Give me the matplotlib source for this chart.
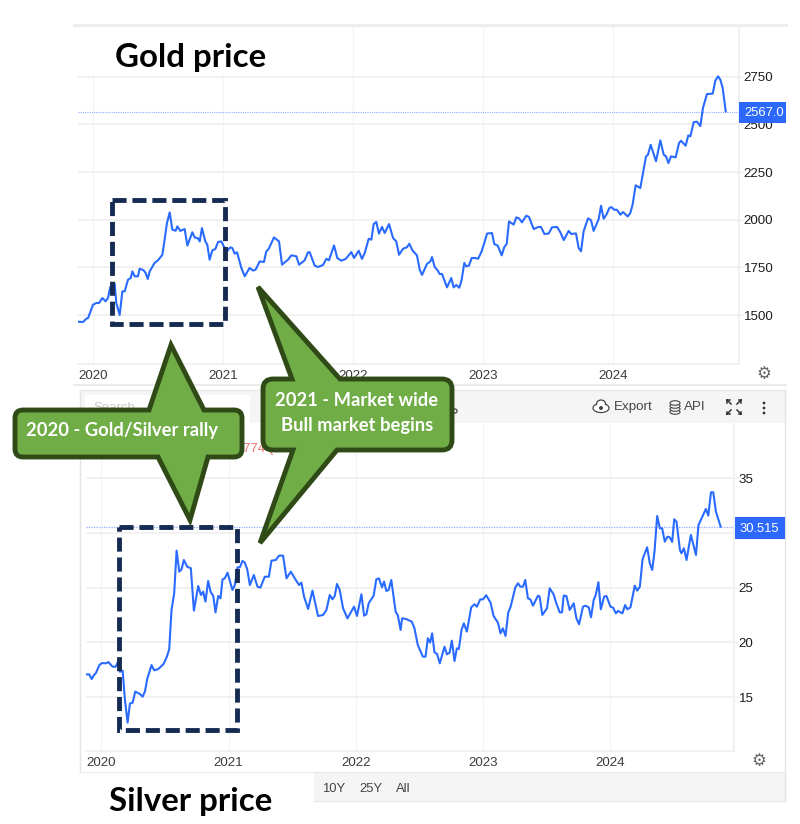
import matplotlib.pyplot as plt
from matplotlib.patches import Ellipse, PathPatch, Rectangle
from matplotlib.path import Path

# 금 가격 (연도, 값)
gold_years = [
    2019.885, 2019.923, 2019.949, 2019.962, 2020.0, 2020.026, 2020.046, 2020.072, 2020.097, 2020.115,
    2020.133, 2020.149, 2020.167, 2020.179, 2020.205, 2020.226, 2020.244, 2020.269, 2020.29, 2020.303,
    2020.321, 2020.346, 2020.359, 2020.39, 2020.405, 2020.421, 2020.436, 2020.474, 2020.5, 2020.533,
    2020.551, 2020.569, 2020.59, 2020.61, 2020.636, 2020.649, 2020.672, 2020.705, 2020.726, 2020.764,
    2020.782, 2020.808, 2020.821, 2020.838, 2020.864, 2020.879, 2020.897, 2020.918, 2020.941, 2020.962,
    2020.987, 2021.013, 2021.031, 2021.056, 2021.072, 2021.09, 2021.108, 2021.141, 2021.167, 2021.205,
    2021.231, 2021.251, 2021.282, 2021.315, 2021.333, 2021.351, 2021.392, 2021.431, 2021.454, 2021.5,
    2021.526, 2021.564, 2021.585, 2021.628, 2021.654, 2021.667, 2021.705, 2021.731, 2021.769, 2021.795,
    2021.815, 2021.854, 2021.879, 2021.91, 2021.944, 2021.987, 2022.008, 2022.044, 2022.069, 2022.09,
    2022.121, 2022.141, 2022.159, 2022.179, 2022.2, 2022.223, 2022.244, 2022.277, 2022.308, 2022.333,
    2022.354, 2022.385, 2022.415, 2022.433, 2022.459, 2022.492, 2022.513, 2022.531, 2022.569, 2022.595,
    2022.608, 2022.628, 2022.651, 2022.667, 2022.685, 2022.723, 2022.756, 2022.774, 2022.795, 2022.818,
    2022.836, 2022.856, 2022.872, 2022.892, 2022.913, 2022.941, 2022.962, 2022.987, 2023.01, 2023.031,
    2023.069, 2023.087, 2023.113, 2023.144, 2023.164, 2023.182, 2023.2, 2023.236, 2023.256, 2023.277,
    2023.3, 2023.333, 2023.354, 2023.39, 2023.428, 2023.446, 2023.472, 2023.505, 2023.531, 2023.569,
    2023.595, 2023.621, 2023.659, 2023.679, 2023.715, 2023.736, 2023.754, 2023.774, 2023.808, 2023.831,
    2023.851, 2023.89, 2023.908, 2023.928, 2023.949, 2023.972, 2023.987, 2024.01, 2024.031, 2024.056,
    2024.077, 2024.113, 2024.133, 2024.151, 2024.174, 2024.21, 2024.254, 2024.269, 2024.29, 2024.331,
    2024.364, 2024.39, 2024.408, 2024.426, 2024.446, 2024.482, 2024.508, 2024.523, 2024.559, 2024.579,
    2024.595, 2024.621, 2024.646, 2024.672, 2024.692, 2024.723, 2024.767, 2024.787, 2024.808, 2024.826,
    2024.844, 2024.867,
]
gold_values = [
    1465, 1463, 1481, 1484, 1554, 1563, 1563, 1589, 1572, 1589,
    1647, 1615, 1664, 1563, 1500, 1624, 1624, 1685, 1694, 1729,
    1703, 1703, 1743, 1734, 1720, 1689, 1729, 1773, 1787, 1815,
    1895, 1983, 2038, 1948, 1942, 1965, 1941, 1951, 1864, 1934,
    1907, 1902, 1886, 1956, 1886, 1869, 1790, 1839, 1846, 1883,
    1886, 1851, 1834, 1855, 1851, 1822, 1829, 1747, 1703, 1747,
    1733, 1738, 1781, 1778, 1834, 1846, 1907, 1886, 1764, 1790,
    1813, 1808, 1764, 1787, 1829, 1829, 1759, 1752, 1762, 1795,
    1787, 1865, 1799, 1785, 1794, 1830, 1799, 1837, 1794, 1825,
    1900, 1895, 1977, 1988, 1927, 1962, 1930, 1977, 1904, 1886,
    1816, 1848, 1855, 1874, 1837, 1813, 1738, 1710, 1768, 1781,
    1804, 1752, 1734, 1715, 1715, 1645, 1694, 1645, 1657, 1643,
    1685, 1773, 1755, 1759, 1799, 1799, 1795, 1829, 1878, 1927,
    1930, 1872, 1864, 1813, 1857, 1872, 1991, 1974, 2012, 2007,
    1986, 2021, 2014, 1951, 1962, 1962, 1925, 1927, 1960, 1962,
    1934, 1893, 1941, 1925, 1928, 1851, 1834, 1939, 2007, 1997,
    1941, 2003, 2073, 2005, 2026, 2061, 2066, 2052, 2052, 2026,
    2040, 2017, 2035, 2079, 2180, 2166, 2332, 2341, 2393, 2306,
    2416, 2341, 2332, 2297, 2332, 2327, 2402, 2414, 2388, 2442,
    2437, 2512, 2514, 2491, 2586, 2659, 2661, 2729, 2752, 2734,
    2690, 2568,
]
gold_last = 2567.0
gold_ticks = [1500, 1750, 2000, 2250, 2500, 2750]

# 은 가격 (연도, 값)
silver_years = [
    2019.885, 2019.906, 2019.924, 2019.942, 2019.958, 2019.984, 2020.003, 2020.037, 2020.055, 2020.089,
    2020.113, 2020.131, 2020.147, 2020.168, 2020.186, 2020.207, 2020.225, 2020.246, 2020.267, 2020.304,
    2020.325, 2020.343, 2020.361, 2020.395, 2020.416, 2020.448, 2020.487, 2020.513, 2020.534, 2020.552,
    2020.573, 2020.592, 2020.613, 2020.631, 2020.649, 2020.675, 2020.704, 2020.728, 2020.762, 2020.783,
    2020.801, 2020.819, 2020.84, 2020.859, 2020.88, 2020.898, 2020.919, 2020.937, 2020.953, 2020.971,
    2020.992, 2021.031, 2021.05, 2021.071, 2021.089, 2021.11, 2021.128, 2021.147, 2021.168, 2021.199,
    2021.228, 2021.251, 2021.285, 2021.317, 2021.338, 2021.372, 2021.398, 2021.429, 2021.456, 2021.49,
    2021.529, 2021.555, 2021.573, 2021.594, 2021.626, 2021.66, 2021.704, 2021.743, 2021.77, 2021.796,
    2021.817, 2021.835, 2021.853, 2021.874, 2021.901, 2021.935, 2021.987, 2022.01, 2022.045, 2022.066,
    2022.084, 2022.102, 2022.141, 2022.162, 2022.183, 2022.207, 2022.223, 2022.241, 2022.259, 2022.28,
    2022.314, 2022.332, 2022.353, 2022.365, 2022.396, 2022.441, 2022.462, 2022.488, 2022.528, 2022.549,
    2022.567, 2022.585, 2022.601, 2022.619, 2022.64, 2022.661, 2022.698, 2022.717, 2022.738, 2022.756,
    2022.777, 2022.795, 2022.811, 2022.832, 2022.85, 2022.874, 2022.908, 2022.934, 2022.953, 2022.979,
    2023.0, 2023.026, 2023.06, 2023.084, 2023.118, 2023.139, 2023.157, 2023.178, 2023.199, 2023.218,
    2023.255, 2023.276, 2023.294, 2023.315, 2023.333, 2023.354, 2023.373, 2023.394, 2023.433, 2023.446,
    2023.467, 2023.504, 2023.525, 2023.556, 2023.577, 2023.604, 2023.622, 2023.635, 2023.656, 2023.682,
    2023.714, 2023.735, 2023.756, 2023.787, 2023.806, 2023.832, 2023.85, 2023.871, 2023.887, 2023.908,
    2023.927, 2023.953, 2023.971, 2024.003, 2024.024, 2024.045, 2024.063, 2024.097, 2024.118, 2024.136,
    2024.16, 2024.194, 2024.213, 2024.234, 2024.255, 2024.291, 2024.312, 2024.331, 2024.349, 2024.37,
    2024.391, 2024.409, 2024.43, 2024.451, 2024.469, 2024.488, 2024.504, 2024.522, 2024.549, 2024.561,
    2024.58, 2024.601, 2024.635, 2024.675, 2024.695, 2024.753, 2024.772, 2024.793, 2024.811, 2024.832,
    2024.869,
]
silver_values = [
    17.07, 17.07, 16.64, 17.0, 17.2, 17.9, 18.1, 18.08, 18.2, 17.77,
    17.77, 18.23, 17.3, 17.4, 14.7, 12.65, 14.4, 14.48, 15.5, 15.27,
    15.03, 15.5, 16.64, 17.92, 17.44, 17.56, 17.98, 18.6, 19.36, 22.96,
    24.48, 28.39, 26.46, 26.68, 27.53, 26.92, 26.77, 22.9, 25.15, 24.33,
    24.63, 23.72, 25.61, 24.63, 24.24, 22.74, 24.24, 24.02, 25.76, 25.85,
    26.37, 24.79, 25.24, 26.86, 26.86, 27.44, 27.29, 26.68, 25.24, 26.16,
    25.09, 25.0, 26.0, 26.0, 27.47, 27.53, 27.93, 27.93, 25.85, 26.46,
    25.7, 25.24, 25.46, 24.18, 23.05, 24.73, 22.41, 22.5, 22.96, 24.33,
    23.93, 24.24, 25.34, 24.79, 23.11, 22.19, 23.26, 22.41, 24.39, 22.44,
    22.56, 23.57, 24.27, 25.76, 25.85, 25.03, 25.55, 24.7, 24.79, 25.7,
    22.8, 22.44, 21.13, 22.2, 22.13, 21.89, 21.28, 19.76, 18.69, 18.69,
    20.37, 19.97, 20.82, 19.09, 18.93, 18.08, 19.6, 18.9, 19.05, 20.15,
    18.29, 19.45, 19.39, 21.13, 21.74, 20.98, 23.2, 23.48, 23.26, 23.93,
    23.93, 24.3, 23.63, 22.41, 21.8, 20.82, 21.28, 20.58, 22.71, 23.26,
    25.03, 25.4, 25.09, 25.09, 25.7, 24.02, 23.93, 23.35, 24.27, 24.18,
    22.5, 23.11, 24.94, 24.39, 23.57, 22.74, 22.74, 24.27, 24.24, 22.96,
    23.57, 22.2, 21.65, 23.26, 23.35, 23.2, 22.29, 23.87, 24.33, 25.49,
    23.02, 24.18, 24.24, 23.26, 23.17, 22.65, 22.87, 22.65, 23.41, 23.02,
    23.2, 25.18, 24.73, 25.09, 27.59, 28.69, 27.23, 26.62, 28.29, 31.55,
    30.43, 30.43, 29.21, 29.66, 29.6, 29.18, 31.25, 31.04, 28.45, 28.14,
    28.6, 27.53, 29.82, 27.99, 30.73, 32.2, 31.59, 33.72, 33.72, 31.95,
    30.58,
]
silver_last = 30.515
silver_ticks = [15, 20, 25, 30, 35]
# 30은 원본에서 가격 라벨에 완전히 가려져 보이지 않습니다.
silver_tick_labels = ["15", "20", "25", "", "35"]

year_ticks = [2020, 2021, 2022, 2023, 2024]

LINE_BLUE = "#2a6bff"
LAST_BLUE = "#8fabff"
LABEL_BLUE = "#2b68fb"
GRID = "#eeeeee"
VGRID = "#f2f5f8"
NAVY = "#152b52"
GREEN = "#70ad47"
DARK_GREEN = "#2f4a17"
TICK_FONT = "Liberation Sans"
NOTE_FONT = "Lato"

W, H = 800, 824

fig = plt.figure(figsize=(W / 100, H / 100), dpi=100)


def add_chart(left, right, top, bottom, xlim, ylim):
    # 픽셀 위치로 차트 영역을 잡습니다.
    ax = fig.add_axes([left / W, 1 - bottom / H, (right - left) / W, (bottom - top) / H])
    ax.set_xlim(*xlim)
    ax.set_ylim(*ylim)
    ax.set_xticks(year_ticks)
    ax.grid(True, axis="x", color=VGRID, linewidth=1.0)
    ax.grid(True, axis="y", color=GRID, linewidth=1.1)
    ax.set_axisbelow(True)
    for side in ["top", "left"]:
        ax.spines[side].set_visible(False)
    for side in ["bottom", "right"]:
        ax.spines[side].set_color("#ebeef1")
        ax.spines[side].set_linewidth(1.1)
    ax.tick_params(axis="x", length=0, pad=4, labelsize=9.6, labelcolor="#3c3c3c")
    ax.tick_params(axis="y", length=3, width=1, color=GRID, pad=0.5, labelsize=9.6, labelcolor="#1c1c1c")
    ax.yaxis.tick_right()
    for label in ax.get_xticklabels() + ax.get_yticklabels():
        label.set_fontfamily(TICK_FONT)
    return ax


# 금 차트: 2020=93px, 연간 130px / 1500=315px, 2750=76.7px
gold_px_per_year = 130.0
gold_px_per_unit = (315.0 - 76.7) / 1250.0
gold_ax = add_chart(
    78, 739, 25, 364,
    (2020 + (78 - 93) / gold_px_per_year, 2020 + (739 - 93) / gold_px_per_year),
    (1500 - (364 - 315) / gold_px_per_unit, 1500 + (315 - 25) / gold_px_per_unit),
)
gold_ax.set_yticks(gold_ticks)
for label in gold_ax.get_yticklabels():
    label.set_fontfamily(TICK_FONT)
gold_ax.axhline(gold_last, color=LAST_BLUE, linewidth=0.8, linestyle=(0, (1, 1)))
gold_ax.plot(gold_years, gold_values, color=LINE_BLUE, linewidth=1.5, solid_joinstyle="round")

# 은 차트: 2020=101.3px, 연간 127.2px / 15=697px, 35=478.3px
silver_px_per_year = 127.2
silver_px_per_unit = (697.0 - 478.3) / 20.0
silver_ax = add_chart(
    86, 734, 423, 751,
    (2020 + (86 - 101.3) / silver_px_per_year, 2020 + (734 - 101.3) / silver_px_per_year),
    (15 - (751 - 697) / silver_px_per_unit, 15 + (697 - 423) / silver_px_per_unit),
)
silver_ax.set_yticks(silver_ticks, labels=silver_tick_labels)
for label in silver_ax.get_yticklabels():
    label.set_fontfamily(TICK_FONT)
silver_ax.axhline(silver_last, color=LAST_BLUE, linewidth=0.9, linestyle=(0, (1, 1)))
silver_ax.plot(silver_years, silver_values, color=LINE_BLUE, linewidth=1.5, solid_joinstyle="round")

# 나머지 장식은 픽셀 좌표 오버레이에 그립니다.
over = fig.add_axes([0, 0, 1, 1], zorder=5)
over.set_xlim(0, W)
over.set_ylim(H, 0)
over.axis("off")
over.patch.set_alpha(0)


def rect(x0, y0, x1, y1, color, zorder=1):
    over.add_patch(Rectangle((x0, y0), x1 - x0, y1 - y0, facecolor=color, edgecolor="none", zorder=zorder))


def hline(y, x0, x1, color="#e8e8e8", lw=1.0):
    over.plot([x0, x1], [y, y], color=color, linewidth=lw, zorder=1)


def vline(x, y0, y1, color="#e4e4e4", lw=1.0):
    over.plot([x, x], [y0, y1], color=color, linewidth=lw, zorder=1)


def callout_path(x0, y0, x1, y1, r, top_arrow, bottom_arrow):
    # 위/아래 화살표가 달린 둥근 사각형 말풍선 경로입니다.
    verts = [(x0 + r, y0)]
    codes = [Path.MOVETO]
    ta, tb, tx, ty = top_arrow
    verts += [(ta, y0), (tx, ty), (tb, y0), (x1 - r, y0)]
    codes += [Path.LINETO] * 4
    verts += [(x1, y0), (x1, y0 + r), (x1, y1 - r)]
    codes += [Path.CURVE3, Path.CURVE3, Path.LINETO]
    verts += [(x1, y1), (x1 - r, y1)]
    codes += [Path.CURVE3, Path.CURVE3]
    ba, bb, bx, by = bottom_arrow
    verts += [(bb, y1), (bx, by), (ba, y1), (x0 + r, y1)]
    codes += [Path.LINETO] * 4
    verts += [(x0, y1), (x0, y1 - r), (x0, y0 + r)]
    codes += [Path.CURVE3, Path.CURVE3, Path.LINETO]
    verts += [(x0, y0), (x0 + r, y0), (x0 + r, y0)]
    codes += [Path.CURVE3, Path.CURVE3, Path.CLOSEPOLY]
    return Path(verts, codes)


# 금 차트 위쪽 제목 영역과 테두리
rect(74, 18, 313, 75, "white")
hline(25, 74, 786, color="#eeeeee", lw=2.2)
hline(385, 74, 786, color="#e6e6e6", lw=1.2)

# 가격 라벨
rect(739, 102, 786, 123, LABEL_BLUE, zorder=2)
over.text(764, 113, "2567.0", color="white", fontsize=9.4, family=TICK_FONT, ha="center", va="center", zorder=3)
rect(734.5, 517, 785, 539, LABEL_BLUE, zorder=2)
over.text(759.5, 528.5, "30.515", color="white", fontsize=9.4, family=TICK_FONT, ha="center", va="center", zorder=3)

# 은 차트 패널과 툴바
rect(80, 390, 785, 423, "#f5f5f5")
rect(85, 395, 250, 423, "white")
over.text(93, 408, "Search", color="#c8c8c8", fontsize=9.5, family=TICK_FONT, va="center", zorder=1.5)
over.text(243, 449, "774 ( 2", color="#f26d6d", fontsize=9.5, family=TICK_FONT, va="center", zorder=1.5)
rect(80, 772, 785, 773, "#e8e8e8")
rect(314, 773, 785, 801, "#f5f5f5")
vline(80, 390, 772)
vline(785, 390, 801)
hline(390, 80, 785)
hline(801, 314, 785)
over.add_patch(Ellipse((455, 411), 4, 4, facecolor="none", edgecolor="#555555", linewidth=1.0, zorder=1.5))
for label, x in [("10Y", 322), ("25Y", 359), ("All", 396)]:
    over.text(x, 789, label, color="#444444", fontsize=9.4, family=TICK_FONT, va="center", zorder=2)

# 툴바 아이콘과 글자
icon = "#444444"
over.add_patch(Ellipse((601, 408), 16, 9, facecolor="white", edgecolor=icon, linewidth=0.9, zorder=2))
over.add_patch(Ellipse((601, 404), 9, 8, facecolor="white", edgecolor=icon, linewidth=0.9, zorder=2))
over.add_patch(Ellipse((601, 408), 14, 7, facecolor="white", edgecolor="none", zorder=2.1))
over.add_patch(Ellipse((601, 408), 4, 4, facecolor=icon, edgecolor="none", zorder=2.2))
over.text(614, 407, "Export", color=icon, fontsize=9.6, family=TICK_FONT, va="center", zorder=2)
for y in [412, 409, 406, 403]:
    over.add_patch(Ellipse((675, y), 10, 4.5, facecolor="#f5f5f5", edgecolor=icon, linewidth=0.8, zorder=2))
over.text(684, 407, "API", color=icon, fontsize=9.6, family=TICK_FONT, va="center", zorder=2)
for cx, cy, dx, dy in [(727, 400, 1, 1), (741, 400, -1, 1), (727, 414, 1, -1), (741, 414, -1, -1)]:
    over.plot([cx, cx + 4 * dx], [cy, cy + 4 * dy], color="#333333", linewidth=1.1, zorder=2)
    over.plot([cx, cx], [cy, cy + 2.5 * dy], color="#333333", linewidth=1.1, zorder=2)
    over.plot([cx, cx + 2.5 * dx], [cy, cy], color="#333333", linewidth=1.1, zorder=2)
for y in [403, 408, 413]:
    over.add_patch(Ellipse((764, y), 2.8, 2.8, facecolor="#333333", edgecolor="none", zorder=2))

# 톱니 아이콘
over.text(764, 374, "\u2699", color="#666666", fontsize=12, family="DejaVu Sans", ha="center", va="center", zorder=2)
over.text(759, 761, "\u2699", color="#666666", fontsize=12, family="DejaVu Sans", ha="center", va="center", zorder=2)

# 제목
over.text(191, 57, "Gold price", color="black", fontsize=23.8, fontweight="bold", family=NOTE_FONT, ha="center", va="center", zorder=6)
over.text(191, 802, "Silver price", color="black", fontsize=23.8, fontweight="bold", family=NOTE_FONT, ha="center", va="center", zorder=6)

# 점선 박스
for x0, y0, x1, y1 in [(112, 200, 225, 324), (119, 527, 237, 730)]:
    over.add_patch(Rectangle((x0, y0), x1 - x0, y1 - y0, facecolor="none", edgecolor=NAVY, linewidth=3.5,
                             linestyle=(0, (2.9, 1.2)), zorder=7))

# 말풍선
callout_1 = callout_path(15, 410, 242, 457, 8, (149, 204, 171, 345), (158, 208, 190, 520))
callout_2 = callout_path(263, 379, 452, 450, 10, (292, 340, 258, 287), (293, 337, 260, 543))
for path in [callout_1, callout_2]:
    over.add_patch(PathPatch(path, facecolor=GREEN, edgecolor=DARK_GREEN, linewidth=3.5, joinstyle="miter", zorder=8))

over.text(26, 430, "2020 - Gold/Silver rally", color="white", fontsize=13.2, fontweight="bold", family=NOTE_FONT, va="center", zorder=9)
over.text(357, 400, "2021 - Market wide", color="white", fontsize=13.2, fontweight="bold", family=NOTE_FONT, ha="center", va="center", zorder=9)
over.text(357, 425, "Bull market begins", color="white", fontsize=13.2, fontweight="bold", family=NOTE_FONT, ha="center", va="center", zorder=9)

fig.savefig("out.png", dpi=100)
